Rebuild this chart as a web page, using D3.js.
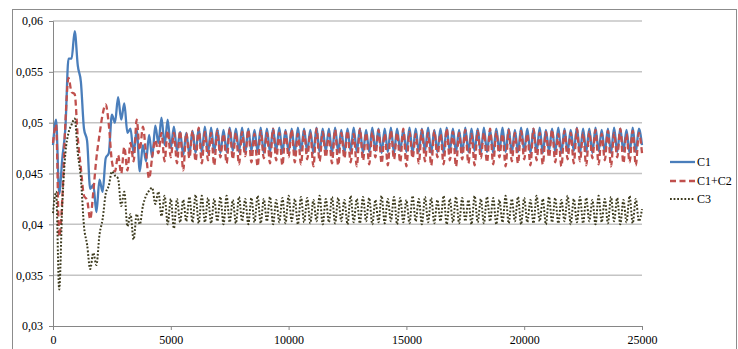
<!DOCTYPE html>
<html>
<head>
<meta charset="utf-8">
<script src="https://cdn.jsdelivr.net/npm/d3@7"></script>
<style>
  html, body { margin: 0; padding: 0; background: #fff; }
  svg { display: block; }
  svg text { font-family: "Liberation Serif", "Times New Roman", Times, "DejaVu Serif", serif; font-size: 12px; fill: #000; }
</style>
</head>
<body>
<svg id="chart" width="738" height="349"></svg>
<script>
// sampled every half oscillation, 0 .. 25000
const sampleCount = 191;
const xTicks = [0, 5000, 10000, 15000, 20000, 25000];
const yTicks = [0.03, 0.035, 0.04, 0.045, 0.05, 0.055, 0.06];
const seriesNames = ["C1", "C1+C2", "C3"];

const c1 = [
  0.0478, 0.0503, 0.0430, 0.0465, 0.0495, 0.0563, 0.0563, 0.0590, 0.0556, 0.0540,
  0.0494, 0.0482, 0.0435, 0.0439, 0.0412, 0.0444, 0.0432, 0.0465, 0.0470, 0.0508,
  0.0500, 0.0525, 0.0503, 0.0519, 0.0490, 0.0494, 0.0470, 0.0493, 0.0452, 0.0478,
  0.0462, 0.0488, 0.0466, 0.0497, 0.0480, 0.0505, 0.0478, 0.0503, 0.0475, 0.0496,
  0.0472, 0.0491, 0.0468, 0.0490, 0.0469, 0.0492, 0.0470, 0.0494, 0.0471, 0.0496,
  0.0470, 0.0495, 0.0471, 0.0494, 0.0470, 0.0493, 0.0471, 0.0495, 0.0472, 0.0494,
  0.0471, 0.0495, 0.0470, 0.0494, 0.0472, 0.0493, 0.0471, 0.0495, 0.0470, 0.0494,
  0.0471, 0.0494, 0.0472, 0.0495, 0.0470, 0.0493, 0.0471, 0.0494, 0.0470, 0.0495,
  0.0472, 0.0494, 0.0471, 0.0493, 0.0470, 0.0495, 0.0471, 0.0494, 0.0472, 0.0494,
  0.0470, 0.0495, 0.0471, 0.0493, 0.0470, 0.0494, 0.0472, 0.0495, 0.0471, 0.0494,
  0.0470, 0.0493, 0.0471, 0.0495, 0.0472, 0.0494, 0.0470, 0.0494, 0.0471, 0.0495,
  0.0470, 0.0494, 0.0472, 0.0493, 0.0471, 0.0495, 0.0470, 0.0494, 0.0471, 0.0494,
  0.0472, 0.0495, 0.0470, 0.0493, 0.0471, 0.0494, 0.0470, 0.0495, 0.0472, 0.0494,
  0.0471, 0.0493, 0.0470, 0.0495, 0.0471, 0.0494, 0.0472, 0.0494, 0.0470, 0.0495,
  0.0471, 0.0493, 0.0470, 0.0494, 0.0472, 0.0495, 0.0471, 0.0494, 0.0470, 0.0493,
  0.0471, 0.0495, 0.0472, 0.0494, 0.0470, 0.0494, 0.0471, 0.0495, 0.0470, 0.0493,
  0.0472, 0.0494, 0.0471, 0.0495, 0.0470, 0.0494, 0.0471, 0.0493, 0.0472, 0.0495,
  0.0470, 0.0494, 0.0471, 0.0494, 0.0470, 0.0495, 0.0472, 0.0493, 0.0471, 0.0494,
  0.0470, 0.0495, 0.0471, 0.0494, 0.0472, 0.0493, 0.0470, 0.0495, 0.0471, 0.0494,
  0.0478
];

const c1c2 = [
  0.0480, 0.0498, 0.0388, 0.0425, 0.0500, 0.0544, 0.0530, 0.0528, 0.0485, 0.0455,
  0.0428, 0.0424, 0.0405, 0.0432, 0.0465, 0.0488, 0.0508, 0.0518, 0.0498, 0.0462,
  0.0452, 0.0468, 0.0450, 0.0476, 0.0453, 0.0480, 0.0462, 0.0503, 0.0473, 0.0496,
  0.0470, 0.0445, 0.0466, 0.0483, 0.0470, 0.0490, 0.0462, 0.0492, 0.0466, 0.0490,
  0.0460, 0.0492, 0.0453, 0.0490, 0.0465, 0.0492, 0.0462, 0.0495, 0.0460, 0.0491,
  0.0463, 0.0490, 0.0458, 0.0492, 0.0466, 0.0489, 0.0460, 0.0494, 0.0464, 0.0490,
  0.0459, 0.0491, 0.0467, 0.0493, 0.0461, 0.0489, 0.0457, 0.0492, 0.0465, 0.0490,
  0.0460, 0.0494, 0.0463, 0.0490, 0.0458, 0.0491, 0.0466, 0.0493, 0.0461, 0.0489,
  0.0459, 0.0492, 0.0464, 0.0490, 0.0457, 0.0494, 0.0462, 0.0491, 0.0466, 0.0489,
  0.0460, 0.0493, 0.0458, 0.0490, 0.0465, 0.0492, 0.0461, 0.0489, 0.0457, 0.0494,
  0.0463, 0.0490, 0.0459, 0.0491, 0.0466, 0.0493, 0.0460, 0.0489, 0.0458, 0.0492,
  0.0464, 0.0490, 0.0461, 0.0494, 0.0457, 0.0491, 0.0465, 0.0489, 0.0460, 0.0493,
  0.0462, 0.0490, 0.0458, 0.0492, 0.0466, 0.0489, 0.0459, 0.0494, 0.0463, 0.0491,
  0.0457, 0.0490, 0.0464, 0.0493, 0.0460, 0.0489, 0.0458, 0.0492, 0.0465, 0.0490,
  0.0461, 0.0494, 0.0459, 0.0491, 0.0466, 0.0489, 0.0457, 0.0493, 0.0462, 0.0490,
  0.0460, 0.0492, 0.0464, 0.0489, 0.0458, 0.0494, 0.0463, 0.0490, 0.0459, 0.0491,
  0.0466, 0.0493, 0.0461, 0.0489, 0.0457, 0.0492, 0.0464, 0.0490, 0.0460, 0.0494,
  0.0462, 0.0490, 0.0458, 0.0491, 0.0465, 0.0493, 0.0459, 0.0489, 0.0463, 0.0492,
  0.0457, 0.0490, 0.0466, 0.0494, 0.0460, 0.0489, 0.0461, 0.0492, 0.0458, 0.0490,
  0.0470
];

const c3 = [
  0.0411, 0.0432, 0.0336, 0.0420, 0.0470, 0.0490, 0.0498, 0.0504, 0.0470, 0.0445,
  0.0398, 0.0380, 0.0356, 0.0372, 0.0360, 0.0390, 0.0405, 0.0430, 0.0438, 0.0452,
  0.0448, 0.0445, 0.0418, 0.0432, 0.0398, 0.0410, 0.0385, 0.0410, 0.0400, 0.0418,
  0.0428, 0.0433, 0.0436, 0.0420, 0.0432, 0.0408, 0.0428, 0.0400, 0.0425, 0.0396,
  0.0425, 0.0402, 0.0424, 0.0403, 0.0427, 0.0402, 0.0429, 0.0401, 0.0428, 0.0402,
  0.0426, 0.0401, 0.0425, 0.0403, 0.0427, 0.0400, 0.0428, 0.0402, 0.0424, 0.0401,
  0.0427, 0.0403, 0.0425, 0.0400, 0.0426, 0.0402, 0.0428, 0.0401, 0.0425, 0.0403,
  0.0427, 0.0400, 0.0424, 0.0402, 0.0426, 0.0401, 0.0428, 0.0403, 0.0425, 0.0400,
  0.0427, 0.0402, 0.0426, 0.0401, 0.0424, 0.0403, 0.0428, 0.0400, 0.0425, 0.0402,
  0.0427, 0.0401, 0.0426, 0.0403, 0.0424, 0.0400, 0.0428, 0.0402, 0.0425, 0.0401,
  0.0427, 0.0403, 0.0426, 0.0400, 0.0424, 0.0402, 0.0428, 0.0401, 0.0425, 0.0403,
  0.0427, 0.0400, 0.0426, 0.0402, 0.0424, 0.0401, 0.0428, 0.0403, 0.0425, 0.0400,
  0.0427, 0.0402, 0.0426, 0.0401, 0.0424, 0.0403, 0.0428, 0.0400, 0.0425, 0.0402,
  0.0427, 0.0401, 0.0426, 0.0403, 0.0424, 0.0400, 0.0428, 0.0402, 0.0425, 0.0401,
  0.0427, 0.0403, 0.0426, 0.0400, 0.0424, 0.0402, 0.0428, 0.0401, 0.0425, 0.0403,
  0.0427, 0.0400, 0.0426, 0.0402, 0.0424, 0.0401, 0.0428, 0.0403, 0.0425, 0.0400,
  0.0427, 0.0402, 0.0426, 0.0401, 0.0424, 0.0403, 0.0428, 0.0400, 0.0425, 0.0402,
  0.0427, 0.0401, 0.0426, 0.0403, 0.0424, 0.0400, 0.0428, 0.0402, 0.0425, 0.0401,
  0.0427, 0.0403, 0.0426, 0.0400, 0.0424, 0.0402, 0.0428, 0.0401, 0.0425, 0.0403,
  0.0415
];

const xs = d3.range(sampleCount).map(i => i * 25000 / (sampleCount - 1));
const serifFont = "'Liberation Serif', 'Times New Roman', Times, 'DejaVu Serif', serif";

const svg = d3.select("#chart");

// outer chart border
svg.append("rect")
  .attr("x", 12.5).attr("y", 9.5)
  .attr("width", 724).attr("height", 350)
  .attr("fill", "none").attr("stroke", "#8c8c8c");

const x = d3.scaleLinear().domain([0, 25000]).range([53, 642]);
const y = d3.scaleLinear().domain([0.03, 0.06]).range([326, 21]);
const fmt = v => d3.format(Math.round(v * 1000) % 10 === 0 ? ".2f" : ".3f")(v).replace(".", ",");

// gridlines
svg.append("g").selectAll("line")
  .data(yTicks.filter(v => v > 0.03))
  .enter().append("line")
  .attr("x1", x(0)).attr("x2", x(25000))
  .attr("y1", d => y(d)).attr("y2", d => y(d))
  .attr("stroke", "#c4c4c4").attr("stroke-width", 1.5);

// y axis
const yAxis = svg.append("g")
  .attr("transform", "translate(" + x(0) + ",0)")
  .call(d3.axisLeft(y).tickValues(yTicks).tickSize(4).tickPadding(6).tickFormat(fmt))
  .attr("font-family", serifFont).attr("font-size", 12);
yAxis.select(".domain").attr("stroke", "#868686");
yAxis.selectAll(".tick line").attr("stroke", "#868686");

// x axis
const xAxis = svg.append("g")
  .attr("transform", "translate(0," + y(0.03) + ")")
  .call(d3.axisBottom(x).tickValues(xTicks).tickSize(4).tickPadding(5).tickFormat(d3.format("d")))
  .attr("font-family", serifFont).attr("font-size", 12);
xAxis.select(".domain").attr("stroke", "#868686");
xAxis.selectAll(".tick line").attr("stroke", "#868686");

const styles = [
  { color: "#4a7ebb", width: 2.3, dash: null },
  { color: "#c0504d", width: 2.3, dash: "6,3.5" },
  { color: "#3d3b1e", width: 2, dash: "1.8,1.8" }
];
const allValues = [c1, c1c2, c3];

const line = d3.line()
  .x((d, i) => x(xs[i]))
  .y(d => y(d))
  .curve(d3.curveMonotoneX);

allValues.forEach((vals, k) => {
  svg.append("path")
    .datum(vals)
    .attr("fill", "none")
    .attr("stroke", styles[k].color)
    .attr("stroke-width", styles[k].width)
    .attr("stroke-dasharray", styles[k].dash)
    .attr("d", line);
});

// legend
const legend = svg.append("g").attr("font-family", serifFont).attr("font-size", 12);
const legendY = [162, 181, 199];
seriesNames.forEach((name, k) => {
  legend.append("line")
    .attr("x1", 670).attr("x2", 695)
    .attr("y1", legendY[k]).attr("y2", legendY[k])
    .attr("stroke", styles[k].color)
    .attr("stroke-width", styles[k].width)
    .attr("stroke-dasharray", styles[k].dash);
  legend.append("text")
    .attr("x", 697).attr("y", legendY[k])
    .attr("dy", "0.35em")
    .text(name);
});
</script>
</body>
</html>
